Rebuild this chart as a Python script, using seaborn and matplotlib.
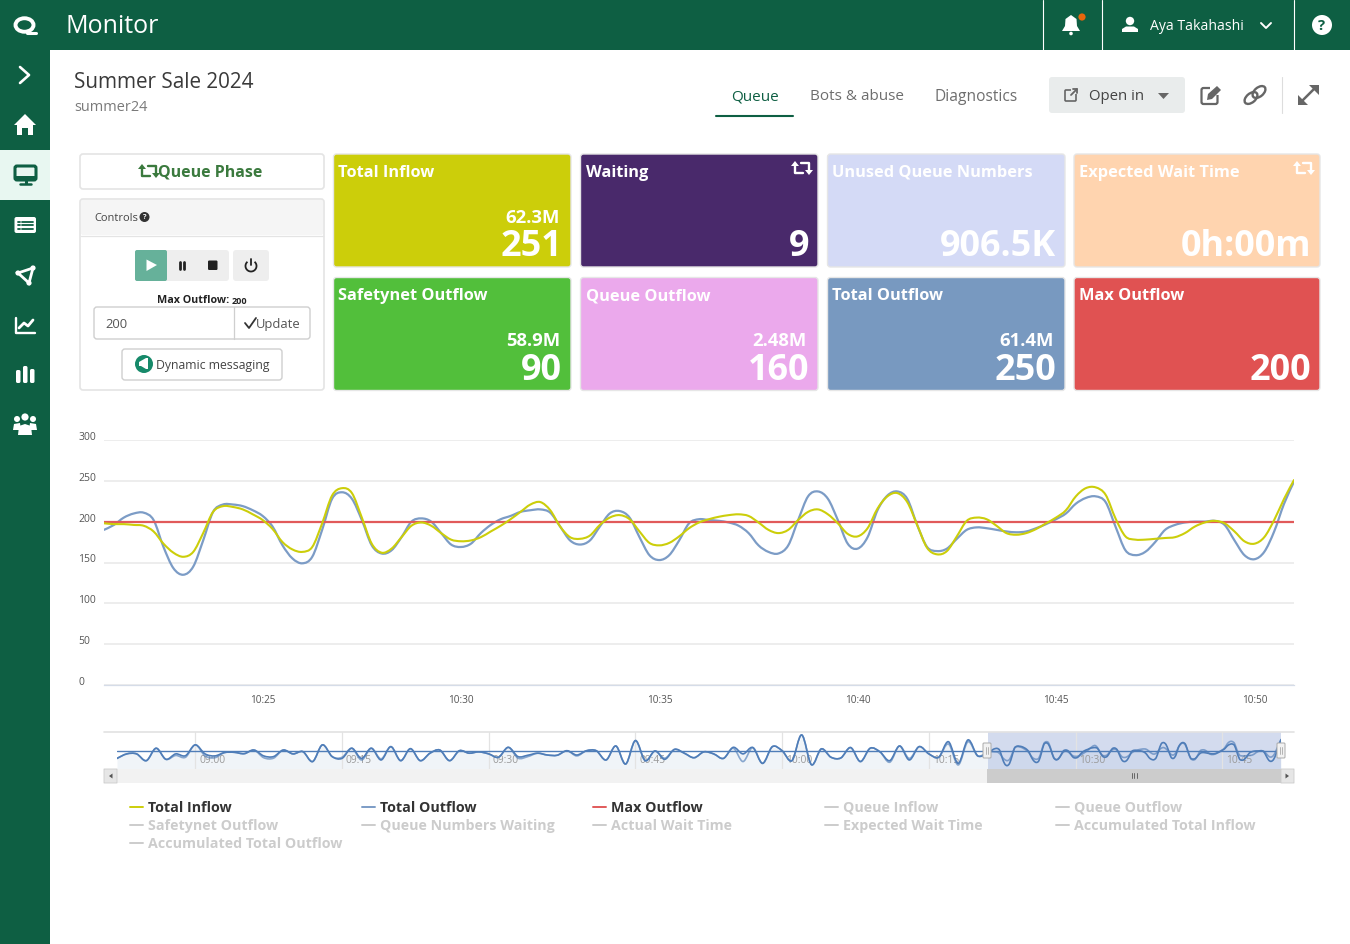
"""Queue monitor dashboard with the inflow / outflow chart and its navigator."""
import numpy as np
import pandas as pd
import matplotlib
matplotlib.use('Agg')
import matplotlib.pyplot as plt
import seaborn as sns
from matplotlib.patches import Arc, Circle, Ellipse, FancyBboxPatch, Polygon
from matplotlib.patheffects import AbstractPathEffect
from matplotlib.path import Path
from matplotlib.transforms import ScaledTranslation

# main chart, one reading every 15 seconds from 10:21 to 10:51
total_outflow = [
    190, 196, 205, 210, 211, 202, 169, 143, 135, 145, 177, 212, 221, 221, 219, 214, 207, 194, 171, 155,
    149, 157, 190, 228, 236, 228, 202, 171, 161, 165, 181, 200, 204, 200, 186, 172, 169, 173, 186, 196,
    203, 207, 212, 214, 215, 211, 194, 177, 172, 177, 194, 210, 213, 205, 181, 159, 153, 159, 177, 198,
    203, 202, 201, 199, 195, 186, 171, 163, 161, 171, 202, 231, 237, 228, 202, 173, 167, 181, 214, 232,
    237, 228, 196, 169, 164, 167, 179, 190, 193, 192, 190, 188, 187, 188, 192, 197, 203, 210, 222, 229,
    231, 224, 194, 165, 159, 163, 175, 190, 196, 199, 200, 200, 201, 196, 177, 159, 154, 163, 188, 222,
    249,
]
total_inflow = [
    198, 197, 197, 196, 195, 188, 173, 162, 157, 163, 186, 212, 219, 218, 215, 209, 202, 191, 175, 166,
    163, 169, 198, 232, 241, 235, 205, 173, 162, 167, 181, 195, 199, 195, 186, 178, 176, 177, 181, 188,
    195, 203, 212, 221, 224, 214, 194, 181, 179, 183, 196, 205, 208, 203, 188, 174, 171, 174, 182, 192,
    199, 203, 206, 208, 209, 207, 199, 190, 186, 190, 202, 212, 215, 209, 198, 185, 182, 192, 216, 231,
    235, 224, 196, 168, 160, 164, 182, 201, 205, 203, 195, 186, 184, 186, 191, 198, 205, 214, 231, 241,
    242, 233, 204, 182, 178, 178, 179, 180, 181, 186, 194, 199, 201, 198, 188, 176, 173, 181, 202, 228,
    251,
]

# navigator, one reading a minute from 08:52 to 10:21
nav_outflow = [
    167, 187, 187, 157, 212, 163, 187, 179, 227, 187, 178, 193, 194, 188, 204, 178, 175, 204, 187, 197,
    153, 227, 175, 167, 212, 167, 212, 160, 219, 157, 210, 157, 190, 204, 157, 201, 190, 196, 187, 172,
    216, 175, 181, 190, 182, 181, 201, 182, 201, 201, 160, 222, 142, 246, 157, 200, 163, 207, 190, 170,
    196, 187, 167, 216, 187, 215, 145, 219, 201, 157, 271, 139, 209, 172, 169, 215, 153, 212, 196, 157,
    222, 160, 219, 187, 172, 241, 145, 249, 178, 190,
]
nav_inflow = [
    167, 187, 187, 157, 212, 163, 180, 172, 227, 178, 170, 193, 194, 188, 204, 170, 168, 204, 187, 197,
    153, 227, 175, 172, 212, 160, 212, 165, 219, 157, 210, 157, 190, 204, 157, 201, 190, 196, 187, 172,
    216, 168, 175, 190, 182, 181, 201, 178, 201, 201, 160, 222, 142, 246, 157, 200, 168, 207, 190, 170,
    196, 187, 167, 212, 153, 215, 145, 219, 201, 157, 271, 139, 209, 172, 169, 215, 153, 212, 196, 150,
    222, 167, 219, 187, 172, 231, 138, 241, 178, 198,
]
max_outflow = [200, 200]

y_ticks = [0, 50, 100, 150, 200, 250, 300]
x_tick_labels = ['10:25', '10:30', '10:35', '10:40', '10:45', '10:50']
nav_tick_labels = ['09:00', '09:15', '09:30', '09:45', '10:00', '10:15', '10:30', '10:45']

card_titles = ['Total Inflow', 'Waiting', 'Unused Queue Numbers', 'Expected Wait Time',
               'Safetynet Outflow', 'Queue Outflow', 'Total Outflow', 'Max Outflow']
card_values = ['251', '9', '906.5K', '0h:00m', '90', '160', '250', '200']
card_totals = ['62.3M', '', '', '', '58.9M', '2.48M', '61.4M', '']
card_colors = ['#CCCE0A', '#49296B', '#D4DAF6', '#FFD4AF', '#52BF3B', '#EBA9EC', '#7899C0', '#E05252']

legend_rows = [
    ['Total Inflow', 'Total Outflow', 'Max Outflow', 'Queue Inflow', 'Queue Outflow'],
    ['Safetynet Outflow', 'Queue Numbers Waiting', 'Actual Wait Time', 'Expected Wait Time',
     'Accumulated Total Inflow'],
    ['Accumulated Total Outflow'],
]

GREEN = '#0E5F43'
YELLOW = '#CCCE0A'
BLUE = '#7C9CC6'
RED = '#E15A5A'
NAV_BLUE = '#4F7DB8'

W, H = 1350, 944
sns.set_theme(style='white')
plt.rcParams['font.family'] = ['Open Sans', 'DejaVu Sans']

fig = plt.figure(figsize=(W / 100, H / 100), dpi=100, facecolor='white')


class SplineStroke(AbstractPathEffect):
    """Strokes a line as a cubic spline through its points, like the original chart's spline type."""

    def draw_path(self, renderer, gc, tpath, affine, rgbFace=None):
        p = np.asarray(tpath.vertices)
        prev_p = np.vstack([p[0], p[:-1]])
        next_p = np.vstack([p[1:], p[-1]])
        tangent = (next_p - prev_p) / 6
        verts = [p[0]]
        for i in range(len(p) - 1):
            verts += [p[i] + tangent[i], p[i + 1] - tangent[i + 1], p[i + 1]]
        codes = [Path.MOVETO] + [Path.CURVE4] * (len(verts) - 1)
        renderer.draw_path(gc, Path(np.array(verts), codes), affine, rgbFace)


def axes_at(x0, y0, x1, y1):
    return fig.add_axes([x0 / W, 1 - y1 / H, (x1 - x0) / W, (y1 - y0) / H])


def shift_labels(labels, dx=0, dy=0):
    for lab in labels:
        lab.set_transform(lab.get_transform() + ScaledTranslation(dx / 100, dy / 100, fig.dpi_scale_trans))


def spline_line(a, x, y, **kw):
    sns.lineplot(x=x, y=y, ax=a, estimator=None, **kw)
    a.lines[-1].set_path_effects([SplineStroke()])


# main chart
main_time = pd.date_range('2024-06-01 10:21', periods=len(total_inflow), freq='15s')
span = pd.to_datetime(['2024-06-01 10:21', '2024-06-01 10:51'])
ax = axes_at(104, 440, 1294, 685)
spline_line(ax, main_time, total_outflow, color=BLUE, lw=1.6)
sns.lineplot(x=span, y=max_outflow, ax=ax, color=RED, lw=1.6, estimator=None)
spline_line(ax, main_time, total_inflow, color=YELLOW, lw=1.5)
ax.set_xlim(span[0], span[1])
ax.set_ylim(0, 300)
ax.set_xlabel('')
ax.set_ylabel('')
ax.set_yticks(y_ticks)
ax.set_yticklabels([str(v) for v in y_ticks])
ax.set_xticks(pd.to_datetime(['2024-06-01 ' + t for t in x_tick_labels]))
ax.set_xticklabels(x_tick_labels)
ax.tick_params(axis='y', length=0, pad=18.7, labelsize=7.5, labelcolor='#555555')
ax.tick_params(axis='x', length=0, pad=7, labelsize=7.2, labelcolor='#555555')
for lab in ax.get_yticklabels():
    lab.set_ha('left')
shift_labels(ax.get_yticklabels(), dy=4)
ax.grid(axis='y', color='#E8E8E8', lw=1.1)
ax.grid(axis='x', visible=False)
ax.set_axisbelow(True)
sns.despine(ax=ax, left=True)
ax.spines['bottom'].set_color('#D5DCE8')
ax.spines['bottom'].set_linewidth(0.9)

# navigator
nav_time = pd.date_range('2024-06-01 08:52', periods=len(nav_outflow), freq='1min')
nav_span = pd.to_datetime(['2024-06-01 08:52', '2024-06-01 10:51'])
nav = axes_at(117, 732, 1281, 769)
nav_low = 120
nav.fill_between(nav_time, nav_outflow, nav_low, color='#F0F4F8', lw=0, zorder=1)
nav.fill_between(main_time, total_outflow, nav_low, color='#F0F4F8', lw=0, zorder=1)
nav.axvspan(main_time[0], nav_span[1], color='#BCC9E6', alpha=0.65, lw=0, zorder=1.2)
for x_vals, y_vals, alpha in [(nav_time, nav_inflow, 0.65), (main_time, total_inflow, 0.65),
                              (nav_time, nav_outflow, 1), (main_time, total_outflow, 1)]:
    spline_line(nav, x_vals, y_vals, color=NAV_BLUE, lw=1.2, alpha=alpha, zorder=3)
sns.lineplot(x=nav_span, y=max_outflow, ax=nav, color=NAV_BLUE, lw=1.0, estimator=None, zorder=3)
nav.set_xlim(nav_span[0], nav_span[1])
nav.set_ylim(nav_low, 284)
nav.set_xlabel('')
nav.set_ylabel('')
nav.set_yticks([])
nav.set_xticks(pd.to_datetime(['2024-06-01 ' + t for t in nav_tick_labels]))
nav.set_xticklabels(nav_tick_labels)
nav.tick_params(axis='x', length=0, pad=-10, labelsize=7.4, labelcolor='#9A9A9A')
for lab in nav.get_xticklabels():
    lab.set_ha('left')
shift_labels(nav.get_xticklabels(), dx=4)
nav.grid(axis='x', color='#E3E3E3', lw=0.9)
nav.set_axisbelow('line')
sns.despine(ax=nav, left=True, bottom=True, top=True)

# everything around the chart goes on an overlay in pixel coordinates
ui = fig.add_axes([0, 0, 1, 1], zorder=10)
ui.set_xlim(0, W)
ui.set_ylim(H, 0)
ui.axis('off')


def box(x0, y0, x1, y1, fc, ec='none', r=3, lw=1.0, z=2):
    ui.add_patch(FancyBboxPatch((x0, y0), x1 - x0, y1 - y0, boxstyle=f'round,pad=0,rounding_size={r}',
                                fc=fc, ec=ec, lw=lw, zorder=z))


def poly(pts, fc, z=4):
    ui.add_patch(Polygon(pts, closed=True, fc=fc, ec='none', zorder=z))


def stroke(xs, ys, c, lw=1.5, z=4):
    ui.plot(xs, ys, color=c, lw=lw, zorder=z, solid_capstyle='round', solid_joinstyle='round')


def disc(x, y, r, c, z=4):
    ui.add_patch(Circle((x, y), r, fc=c, ec='none', zorder=z))


def label(x, y, s, size, c='#333333', weight='normal', ha='left'):
    ui.text(x, y + 1.8, s, fontsize=size * 0.72, color=c, fontweight=weight, ha=ha, va='center', zorder=6)


def repeat_icon(x, y, c):
    stroke([x - 7, x - 7, x + 1], [y - 2, y + 5, y + 5], c, 1.7)
    stroke([x + 7, x + 7, x - 1], [y + 2, y - 5, y - 5], c, 1.7)
    poly([(x - 11, y - 2), (x - 3, y - 2), (x - 7, y - 7)], c)
    poly([(x + 3, y + 2), (x + 11, y + 2), (x + 7, y + 7)], c)


# header and sidebar
box(0, 0, W, 50, GREEN, r=0.01)
box(0, 0, 50, H, GREEN, r=0.01)
box(0, 150, 50, 200, '#E8F7F1', r=0.01)
label(66, 24.5, 'Monitor', 25, 'white')
for x in [1043, 1102, 1294]:
    stroke([x, x], [0, 50], 'white', 0.8)
ui.add_patch(Ellipse((24.5, 25), 18, 13.5, fc='none', ec='white', lw=2.8, zorder=4))
stroke([27, 36], [32.5, 32.5], 'white', 2.2)
# bell
poly([(1062, 31), (1065, 26), (1065.5, 19), (1071, 15), (1076.5, 19), (1077, 26), (1080, 31)], 'white')
disc(1071, 33.5, 1.8, 'white')
disc(1082, 17, 3.6, '#E8660C')
# user
disc(1130, 21, 4.2, 'white')
poly([(1122, 32), (1122, 29), (1126, 26.5), (1134, 26.5), (1138, 29), (1138, 32)], 'white')
label(1150, 25, 'Aya Takahashi', 14, 'white')
stroke([1261, 1266, 1271], [23, 28, 23], 'white', 1.4)
disc(1322, 25, 10, 'white')
label(1322, 24.5, '?', 15, GREEN, 'bold', 'center')

# sidebar icons
stroke([20, 29, 20], [67, 75, 83], 'white', 1.9)
poly([(14, 125), (25, 114), (36, 125), (33, 125), (33, 135), (28, 135), (28, 128), (22, 128), (22, 135), (17, 135), (17, 125)], 'white')
box(15, 166, 36, 180, 'none', GREEN, r=2, lw=2.2, z=4)
box(15, 176, 36, 180, GREEN, r=1, z=4)
stroke([25.5, 25.5], [180, 183], GREEN, 2.2)
stroke([20, 31], [183.5, 183.5], GREEN, 1.8)
box(14.5, 217, 36, 233, 'white', r=2, z=4)
for y in [221.5, 225, 228.5]:
    stroke([18, 20], [y, y], GREEN, 1.3, z=5)
    stroke([22, 33], [y, y], GREEN, 1.3, z=5)
ui.add_patch(Polygon([(18, 273), (33, 268), (29, 283)], closed=True, fc='none', ec='white', lw=2, zorder=4))
for px, py in [(18, 273), (33, 268), (29, 283)]:
    disc(px, py, 2.6, 'white')
stroke([16, 16, 35], [318, 333, 333], 'white', 1.7)
stroke([19, 24, 28, 33], [328, 323, 326, 320], 'white', 2)
for x0, y0 in [(16, 370), (23, 366), (30, 369)]:
    box(x0, y0, x0 + 4.5, 383, 'white', r=1.6, z=4)
for px, py, r in [(17, 419, 3), (25, 417, 3.6), (33, 419, 3)]:
    disc(px, py, r, 'white')
poly([(13, 430), (14, 424), (20, 423), (21, 430)], 'white')
poly([(29, 430), (30, 423), (36, 424), (37, 430)], 'white')
poly([(18, 435), (19, 426), (25, 424), (31, 426), (32, 435)], 'white')

# title row and tabs
label(74, 81, 'Summer Sale 2024', 20.7, '#3A3A3A', '500')
label(74, 106, 'summer24', 14.5, '#7A7A7A')
label(754.5, 95, 'Queue', 15.3, GREEN, '500', 'center')
label(856.5, 95, 'Bots & abuse', 15.3, '#6E6E6E', 'normal', 'center')
label(976, 95, 'Diagnostics', 15.5, '#6E6E6E', 'normal', 'center')
stroke([716, 793], [115.5, 115.5], GREEN, 1.5)
box(1049, 77, 1185, 113, '#E9ECEC', r=3)
label(1089, 95, 'Open in', 15, '#444444', '500')
ui.add_patch(FancyBboxPatch((1065, 90), 11, 11, boxstyle='round,pad=0,rounding_size=1', fc='none', ec='#666666', lw=1.2, zorder=4))
box(1071, 87, 1078, 94, '#E9ECEC', r=0.01, z=5)
stroke([1071, 1077], [95, 89], '#666666', 1.3, z=6)
stroke([1073, 1077, 1077], [89, 89, 93], '#666666', 1.3, z=6)
poly([(1158, 93), (1169, 93), (1163.5, 99)], '#666666')
# edit, link, expand
ui.add_patch(FancyBboxPatch((1201.5, 88), 16, 16, boxstyle='round,pad=0,rounding_size=2', fc='none', ec='#666666', lw=1.6, zorder=4))
box(1210, 85, 1221, 95, 'white', r=0.01, z=5)
poly([(1207, 100), (1208, 94), (1217, 86), (1221, 90), (1212, 99)], '#666666', z=6)
ui.add_patch(Ellipse((1251, 98), 15, 9, angle=-40, fc='none', ec='#666666', lw=1.7, zorder=4))
ui.add_patch(Ellipse((1259, 92), 15, 9, angle=-40, fc='none', ec='#666666', lw=1.7, zorder=4))
stroke([1281.5, 1281.5], [77, 113], '#DDDDDD', 0.8)
stroke([1302, 1314], [101, 89], '#666666', 1.8)
poly([(1309, 85), (1319, 85), (1319, 95)], '#666666')
poly([(1298, 95), (1298, 105), (1308, 105)], '#666666')

# left panel
box(80, 154, 324, 189, 'white', '#E4E4E4', lw=1.2)
repeat_icon(149, 171, '#3B7A3E')
label(158, 171, 'Queue Phase', 16, '#3B7A3E', 'bold')
box(80, 199, 324, 390, 'white', '#E4E4E4', lw=1.2)
box(81, 200, 323, 235, '#F5F5F5', r=2, z=3)
stroke([81, 323], [235.5, 235.5], '#E4E4E4', 0.9)
label(94, 217, 'Controls', 11, '#444444')
disc(144.5, 217, 5, '#333333')
label(144.5, 216, '?', 7.5, 'white', 'bold', 'center')
box(135, 250, 229, 281, '#EEEEEE', r=3)
box(135, 250, 167, 281, '#66B19A', r=2, z=3)
poly([(146.5, 259.5), (146.5, 271), (157, 265)], 'white')
stroke([179.5, 179.5], [261.5, 269], '#222222', 2)
stroke([184, 184], [261.5, 269], '#222222', 2)
box(208, 260.5, 217.5, 270, '#222222', r=1.2, z=4)
box(233, 250, 269, 281, '#EEEEEE', r=3)
ui.add_patch(Arc((251, 266), 11, 11, theta1=-50, theta2=230, ec='#222222', lw=1.3, zorder=4))
stroke([251, 251], [259, 265], '#222222', 1.3)
label(157, 299, 'Max Outflow:', 10.8, '#222222', 'bold')
label(232, 299.5, '200', 9, '#222222', 'bold')
box(94, 307, 310, 339, 'white', '#CFCFCF', r=3)
stroke([234, 234], [307, 339], '#CFCFCF', 0.9)
label(105, 323, '200', 13, '#555555')
stroke([245, 249, 256], [323, 328, 318], '#333333', 1.3)
label(256, 323, 'Update', 13, '#555555')
box(122, 349, 282, 380, 'white', '#CFCFCF', r=3)
disc(144, 364, 9, '#178A6A')
poly([(139, 362), (146, 358), (148, 358), (148, 369), (146, 369), (141, 366), (139, 366)], 'white', z=5)
label(156, 363.5, 'Dynamic messaging', 12.3, '#444444')

# metric cards
card_edges = [(333.5, 571), (580.5, 818), (827.5, 1065), (1074, 1320)]
for i, (title, value, total, color) in enumerate(zip(card_titles, card_values, card_totals, card_colors)):
    x0, x1 = card_edges[i % 4]
    y0 = 154 if i < 4 else 277.5
    box(x0, y0, x1, y0 + 113, color, '#E6E6E6', r=3, lw=1.0)
    label(x0 + 5, y0 + 17, title, 16.4, 'white', 'bold')
    ui.text(x1 - 9, y0 + 102.5, value, fontsize=36 * 0.72, color='white', fontweight='bold',
            ha='right', va='baseline', zorder=6)
    if total:
        ui.text(x1 - 11, y0 + 69, total, fontsize=18.5 * 0.72, color='white', fontweight='bold',
                ha='right', va='baseline', zorder=6)
repeat_icon(802, 168, 'white')
repeat_icon(1304, 168, 'white')

# navigator furniture
stroke([104, 1294], [732, 732], '#E2E2E2', 1.2, z=2)
box(104, 769, 1294, 783, '#F2F2F2', r=0.01, z=2)
box(987, 769, 1281, 783, '#CCCCCC', r=0.01, z=3)
box(104, 769, 117, 783, '#E6E6E6', '#CCCCCC', r=0.01, lw=0.6, z=3)
box(1281, 769, 1294, 783, '#E6E6E6', '#CCCCCC', r=0.01, lw=0.6, z=3)
poly([(112.5, 773.5), (112.5, 778.5), (109, 776)], '#555555')
poly([(1285.5, 773.5), (1285.5, 778.5), (1289, 776)], '#555555')
for x in [1131.5, 1134, 1136.5]:
    stroke([x, x], [773, 778], '#666666', 0.7)
for x in [987, 1281]:
    box(x - 4, 743, x + 4, 758, '#F2F2F2', '#AAAAAA', r=1, lw=0.7, z=5)
    stroke([x - 1, x - 1], [747, 754], '#AAAAAA', 0.6, z=6)
    stroke([x + 1, x + 1], [747, 754], '#AAAAAA', 0.6, z=6)

# legend
legend_x = [130, 361.5, 593, 825, 1056]
line_colors = [YELLOW, BLUE, RED]
for r, row in enumerate(legend_rows):
    y = 807 + 18 * r
    for c, name in enumerate(row):
        active = r == 0 and c < 3
        stroke([legend_x[c], legend_x[c] + 13], [y, y], line_colors[c] if active else '#CCCCCC', 1.4)
        label(legend_x[c] + 18, y - 1, name, 14.3, '#333333' if active else '#CCCCCC', 'bold')

fig.savefig('out.png', dpi=100, facecolor='white')
